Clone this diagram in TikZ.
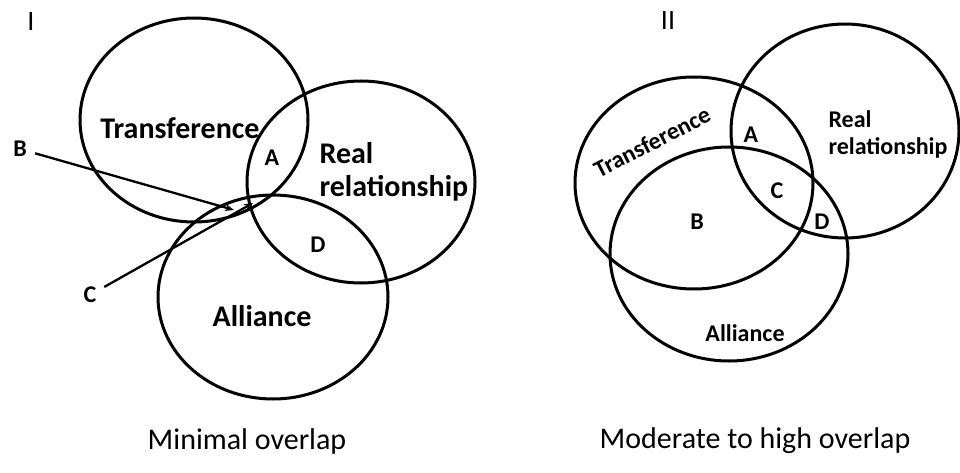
\documentclass[tikz,border=0pt]{standalone}
\usepackage{fontspec}
\setmainfont{Carlito}
\usetikzlibrary{arrows.meta}
\begin{document}
\begin{tikzpicture}[x=1pt,y=-1pt,
  ring/.style={line width=3pt},
  arr/.style={line width=2.3pt,-{Stealth[length=9pt,width=7pt]}},
  big/.style={font=\fontsize{30}{33}\selectfont\bfseries},
  small/.style={font=\fontsize{24}{27}\selectfont\bfseries},
  numeral/.style={font=\fontsize{28}{32}\selectfont},
  caption/.style={font=\fontsize{30}{36}\selectfont}]
\useasboundingbox (0,0) rectangle (960,473);
% panel I
\node[numeral] (numI) at (31,22) {I};
\draw[ring] (194,120) ellipse [x radius=114, y radius=102];
\draw[ring] (361,182) ellipse [x radius=114, y radius=101];
\draw[ring] (273,297) ellipse [x radius=115, y radius=102];
\node[big] (transI) at (180,128) {Transference};
\node[big,align=left,anchor=west] (realI) at (316,172) {Real\\relationship};
\node[big] (allI) at (262,316) {Alliance};
\node[small] (aI) at (272,158) {A};
\node[small] (dI) at (318,245) {D};
\node[small] (bI) at (20,149) {B};
\node[small] (cI) at (90,295) {C};
\coordinate (tipB) at (234,210);
\coordinate (tipC) at (253,203);
\draw[arr,shorten <=5pt] (bI) -- (tipB);
\draw[arr,shorten <=5pt] (cI) -- (tipC);
\node[caption] (capI) at (247,441) {Minimal overlap};
% panel II
\node[numeral] (numII) at (668,21) {II};
\draw[ring] (694,183) ellipse [x radius=119, y radius=106];
\draw[ring] (845,131) ellipse [x radius=114, y radius=107];
\draw[ring] (729,254) ellipse [x radius=119, y radius=107];
\node[small,rotate=27] (transII) at (652,142) {Transference};
\node[small,align=left,anchor=west] (realII) at (825,134) {Real\\relationship};
\node[small] (allII) at (745,333) {Alliance};
\node[small] (aII) at (751,135) {A};
\node[small] (bII) at (697,222) {B};
\node[small] (cII) at (777,191) {C};
\node[small] (dII) at (822,222) {D};
\node[caption] (capII) at (755,441) {Moderate to high overlap};
\end{tikzpicture}
\end{document}
